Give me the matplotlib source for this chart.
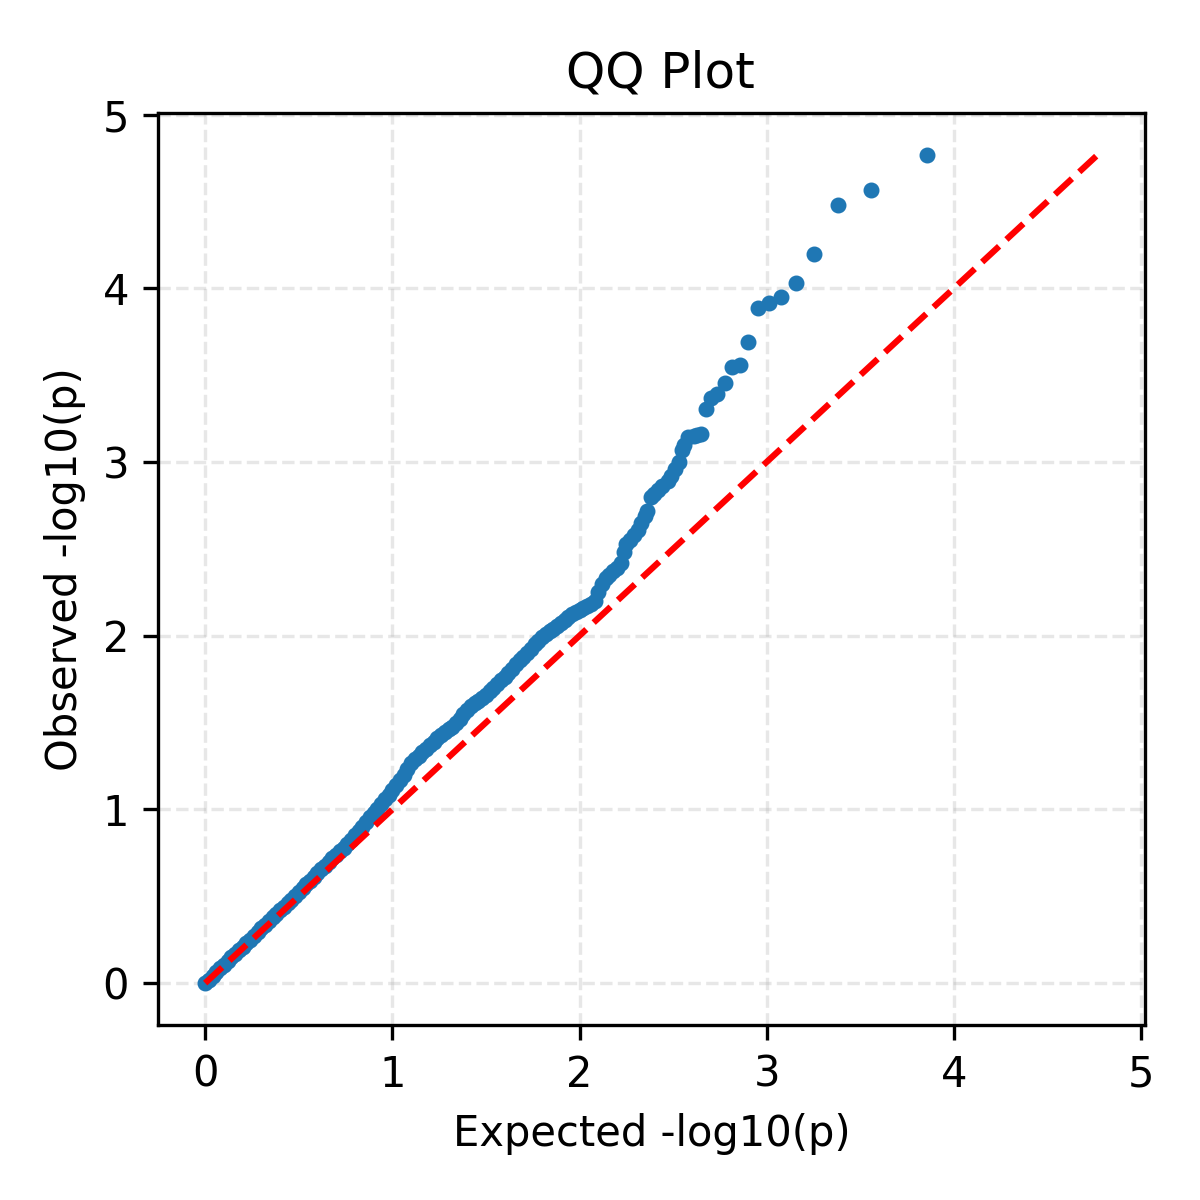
import numpy as np
import matplotlib
matplotlib.use("Agg")
import matplotlib.pyplot as plt

# dense part of the curve
exp_low = [0.00, 0.02, 0.04, 0.06, 0.08, 0.10, 0.12, 0.14, 0.16, 0.18,
           0.20, 0.22, 0.24, 0.26, 0.28, 0.30, 0.32, 0.34, 0.36, 0.38,
           0.40, 0.42, 0.44, 0.46, 0.48, 0.50, 0.52, 0.54, 0.56, 0.58,
           0.60, 0.62, 0.64, 0.66, 0.68, 0.70, 0.72, 0.74, 0.76, 0.78,
           0.80, 0.82, 0.84, 0.86, 0.88, 0.90, 0.92, 0.94, 0.96, 0.98,
           1.00, 1.02, 1.04, 1.06, 1.08, 1.10, 1.12, 1.14, 1.16, 1.18,
           1.20, 1.22, 1.24, 1.26, 1.28, 1.30, 1.32, 1.34, 1.36, 1.38,
           1.40, 1.42, 1.44, 1.46, 1.48, 1.50, 1.52, 1.54, 1.56, 1.58,
           1.60, 1.62, 1.64, 1.66, 1.68, 1.70, 1.72, 1.74, 1.76, 1.78,
           1.80, 1.82, 1.84, 1.86, 1.88, 1.90, 1.92, 1.94, 1.96, 1.98,
           2.00, 2.02, 2.04, 2.06, 2.08, 2.10]
obs_low = [0.00, 0.02, 0.04, 0.062, 0.085, 0.105, 0.125, 0.148, 0.17, 0.19,
           0.21, 0.23, 0.25, 0.272, 0.295, 0.315, 0.335, 0.357, 0.38, 0.40,
           0.42, 0.44, 0.46, 0.48, 0.50, 0.522, 0.545, 0.568, 0.59, 0.612,
           0.635, 0.655, 0.675, 0.698, 0.72, 0.74, 0.76, 0.78, 0.80, 0.825,
           0.85, 0.875, 0.90, 0.928, 0.955, 0.98, 1.005, 1.032, 1.06, 1.085,
           1.11, 1.14, 1.17, 1.20, 1.235, 1.265, 1.29, 1.31, 1.33, 1.35,
           1.37, 1.39, 1.41, 1.428, 1.445, 1.46, 1.475, 1.495, 1.52, 1.548,
           1.575, 1.595, 1.61, 1.625, 1.64, 1.66, 1.68, 1.70, 1.72, 1.742,
           1.765, 1.788, 1.81, 1.835, 1.86, 1.88, 1.90, 1.925, 1.95, 1.97,
           1.99, 2.008, 2.025, 2.04, 2.055, 2.072, 2.09, 2.108, 2.125, 2.138,
           2.15, 2.16, 2.17, 2.185, 2.20, 2.25]

# tail points
exp_tail = [2.12, 2.14, 2.16, 2.18, 2.20, 2.22, 2.24, 2.25, 2.27, 2.29,
            2.31, 2.33, 2.35, 2.36, 2.38, 2.40, 2.42, 2.44, 2.47, 2.49,
            2.51, 2.53, 2.55, 2.56, 2.58, 2.61, 2.63, 2.65,
            2.673, 2.704, 2.736, 2.775, 2.814, 2.858, 2.899, 2.953, 3.011,
            3.074, 3.157, 3.251, 3.380, 3.557, 3.854]
obs_tail = [2.30, 2.33, 2.35, 2.37, 2.39, 2.42, 2.48, 2.53, 2.55, 2.58,
            2.61, 2.65, 2.69, 2.72, 2.80, 2.815, 2.84, 2.86, 2.89, 2.92,
            2.96, 3.00, 3.07, 3.10, 3.145, 3.15, 3.155, 3.16,
            3.303, 3.366, 3.389, 3.452, 3.548, 3.561, 3.691, 3.887, 3.916,
            3.947, 4.033, 4.199, 4.481, 4.567, 4.768]

expected = np.array(exp_low + exp_tail)
observed = np.array(obs_low + obs_tail)
max_val = observed.max()

fig, ax = plt.subplots(figsize=(4, 4), dpi=300)
fig.subplots_adjust(left=0.132, right=0.954, bottom=0.146, top=0.906)

ax.scatter(expected, observed, s=8, color="#1f77b4", zorder=2)
ax.plot([0, max_val], [0, max_val], "r--", zorder=3)

ax.set_xlim(-0.25, 5.02)
ax.set_ylim(-0.24, 5.01)
ax.set_xticks([0, 1, 2, 3, 4, 5])
ax.set_yticks([0, 1, 2, 3, 4, 5])
ax.grid(True, linestyle="--", alpha=0.3)

ax.set_xlabel("Expected -log10(p)")
ax.set_ylabel("Observed -log10(p)")
ax.set_title("QQ Plot", x=0.509)

fig.savefig("out.png", dpi=300)
